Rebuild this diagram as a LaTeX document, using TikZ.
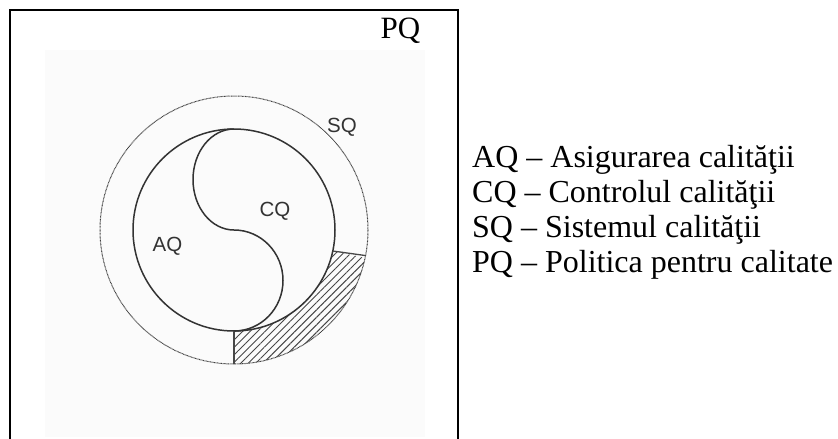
\documentclass[tikz,border=0pt]{standalone}
\usepackage{fontspec}
\setmainfont{Liberation Serif}
\newfontfamily\labelsans{Liberation Sans}
\usetikzlibrary{patterns.meta,calc}
\tikzset{
  frameline/.style={line width=1.8pt, black},
  outerring/.style={draw=black!75, line width=1pt, dash pattern=on 0.8pt off 0.6pt},
  innerring/.style={draw=black!80, line width=1.5pt},
  hatchfill/.style={pattern={Lines[angle=45,distance=5.3pt,line width=0.9pt]}, pattern color=black!72},
  hatchedge/.style={draw=black!72, line width=1.3pt},
  seriftext/.style={font=\fontsize{32}{38}\selectfont, inner sep=0pt, text=black},
  sanslabel/.style={font=\labelsans\fontsize{20.5}{24}\selectfont, text=black!80, inner sep=0pt}
}
\begin{document}
\begin{tikzpicture}[x=1pt,y=-1pt]
\useasboundingbox (0,0) rectangle (838,439);
% faint scanned background
\fill[black!1.5] (45,50) rectangle (425,437);
% frame (bottom edge cut off)
\draw[frameline] (10,440) -- (10,10) -- (458,10) -- (458,440);
\node[seriftext, font=\fontsize{31}{36}\selectfont, anchor=base] (pq) at (400.5,38) {PQ};
% circles
\coordinate (O) at (234,230);
% hatched sector
\fill[hatchfill] ($(O)+(12:101)$) -- ($(O)+(12:134)$) arc[start angle=12, end angle=90, radius=134]
   -- ($(O)+(90:101)$) arc[start angle=90, end angle=12, radius=101] -- cycle;
\draw[outerring] (O) circle[radius=134];
\draw[innerring] (O) circle[radius=101];
\draw[hatchedge] ($(O)+(12:101)$) -- ($(O)+(11:134)$);
\draw[hatchedge] ($(O)+(90:101)$) -- ($(O)+(90:134)$);
% S curve
\draw[innerring] ($(O)+(0,-101)$) arc[start angle=-90, end angle=-270, x radius=41, y radius=50.5]
   arc[start angle=-90, end angle=90, x radius=49, y radius=50.5];
% labels
\node[sanslabel] (sq) at (342,127) {SQ};
\node[sanslabel] (cq) at (275,211) {CQ};
\node[sanslabel] (aq) at (167.5,246) {AQ};
% legend
\node[seriftext, anchor=base west] (l1) at (472,167) {AQ – Asigurarea calităţii};
\node[seriftext, anchor=base west] (l2) at (472,202) {CQ – Controlul calităţii};
\node[seriftext, anchor=base west] (l3) at (472,237) {SQ – Sistemul calităţii};
\node[seriftext, anchor=base west] (l4) at (472,272) {PQ – Politica pentru calitate};
\end{tikzpicture}
\end{document}
